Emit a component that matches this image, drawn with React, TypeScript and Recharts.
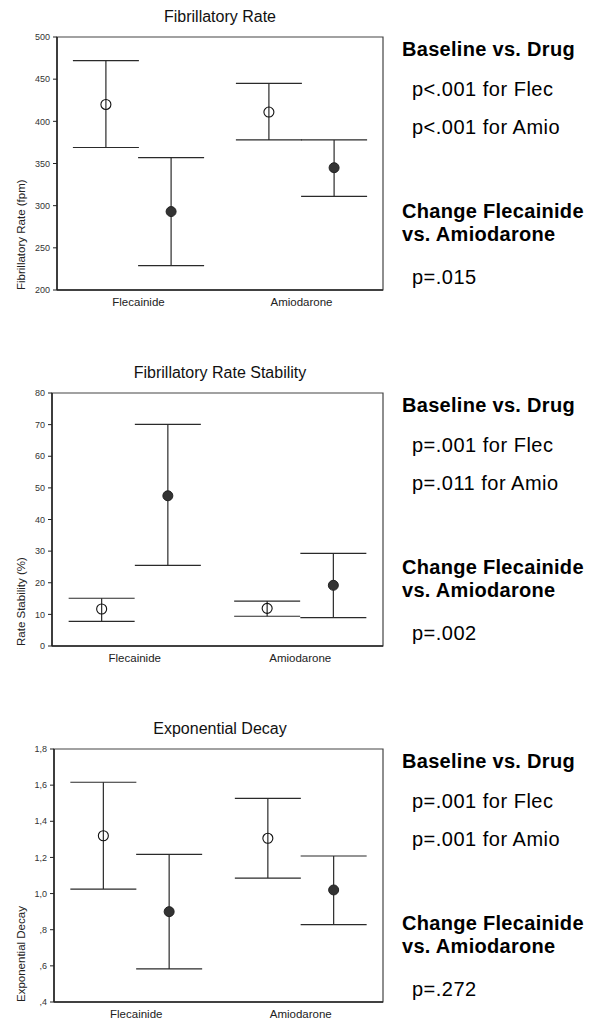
import {
  ComposedChart,
  ErrorBar,
  ReferenceArea,
  Scatter,
  XAxis,
  YAxis
} from "recharts";

const categories = ["Flecainide", "Amiodarone"];

// Fibrillatory rate (fpm): mean and 95% CI
const rateBaseMean = [420, 411];
const rateBaseLow = [369, 378];
const rateBaseHigh = [472, 445];
const rateDrugMean = [293, 345];
const rateDrugLow = [229, 311];
const rateDrugHigh = [357, 378];
const rateTicks = [200, 250, 300, 350, 400, 450, 500];
const rateStats = ["p<.001 for Flec", "p<.001 for Amio", "p=.015"];

// Rate stability (%)
const stabBaseMean = [11.7, 11.9];
const stabBaseLow = [7.8, 9.4];
const stabBaseHigh = [15.1, 14.2];
const stabDrugMean = [47.5, 19.2];
const stabDrugLow = [25.5, 9.0];
const stabDrugHigh = [70.1, 29.3];
const stabTicks = [0, 10, 20, 30, 40, 50, 60, 70, 80];
const stabStats = ["p=.001 for Flec", "p=.011 for Amio", "p=.002"];

// Exponential decay
const decayBaseMean = [1.32, 1.306];
const decayBaseLow = [1.025, 1.086];
const decayBaseHigh = [1.616, 1.527];
const decayDrugMean = [0.9, 1.02];
const decayDrugLow = [0.583, 0.828];
const decayDrugHigh = [1.217, 1.208];
const decayTicks = [0.4, 0.6, 0.8, 1.0, 1.2, 1.4, 1.6, 1.8];
const decayStats = ["p=.001 for Flec", "p=.001 for Amio", "p=.272"];

const FONT = '"Liberation Sans", Arial, Helvetica, sans-serif';

function toPoints(mean: number[], low: number[], high: number[], shift: number) {
  return categories.map((name, i) => ({
    name,
    x: i + 0.5 + shift,
    y: mean[i],
    err: [mean[i] - low[i], high[i] - mean[i]]
  }));
}

const openDot = (p: any) => (
  <circle cx={p.cx} cy={p.cy} r={5} fill="none" stroke="#111" strokeWidth={1.1} />
);
const filledDot = (p: any) => <circle cx={p.cx} cy={p.cy} r={5} fill="#333" stroke="#222" />;

interface PanelProps {
  top: number;
  plotLeft: number;
  title: string;
  yLabel: string;
  ticks: number[];
  fmt?: (v: number) => string;
  base: ReturnType<typeof toPoints>;
  drug: ReturnType<typeof toPoints>;
  stats: string[];
}

function Panel({ top, plotLeft, title, yLabel, ticks, fmt, base, drug, stats }: PanelProps) {
  const yMin = ticks[0];
  const yMax = ticks[ticks.length - 1];
  return (
    <div style={{ position: "absolute", left: 0, top, width: 598, height: 320 }}>
      <div style={{ position: "absolute", left: 0, top: 0 }}>
        <ComposedChart
          width={390}
          height={314}
          margin={{ top: 37, right: 7, bottom: 0, left: 0 }}
          style={{ fontFamily: FONT }}
        >
          <XAxis
            type="number"
            dataKey="x"
            domain={[0, 2]}
            ticks={[0.5, 1.5]}
            tickFormatter={(v: number) => categories[Math.round(v - 0.5)]}
            tickLine={false}
            tickSize={6}
            tickMargin={2}
            height={24}
            axisLine={{ stroke: "#222", strokeWidth: 1.5 }}
            tick={{ fontSize: 11.5, fill: "#222" }}
          />
          <YAxis
            type="number"
            dataKey="y"
            domain={[yMin, yMax]}
            ticks={ticks}
            tickFormatter={fmt}
            width={plotLeft}
            tickSize={4}
            tickMargin={3}
            axisLine={{ stroke: "#222", strokeWidth: 1.5 }}
            tickLine={{ stroke: "#222" }}
            tick={{ fontSize: 9, fill: "#333" }}
          />
          <ReferenceArea x1={0} x2={2} y1={yMin} y2={yMax} fill="none" stroke="#444" strokeWidth={1.2} />
          <Scatter data={base} shape={openDot} isAnimationActive={false}>
            <ErrorBar dataKey="err" direction="y" width={33} stroke="#2a2a2a" strokeWidth={1.2} />
          </Scatter>
          <Scatter data={drug} shape={filledDot} isAnimationActive={false}>
            <ErrorBar dataKey="err" direction="y" width={33} stroke="#2a2a2a" strokeWidth={1.2} />
          </Scatter>
        </ComposedChart>
      </div>
      <svg
        width={598}
        height={320}
        style={{ position: "absolute", left: 0, top: 0, pointerEvents: "none", fontFamily: FONT }}
      >
        <text x={220} y={21.5} textAnchor="middle" fontSize={16} fill="#111">
          {title}
        </text>
        <text x={25} y={290} transform="rotate(-90 25 290)" fontSize={11.5} fill="#222">
          {yLabel}
        </text>
        <text x={402} y={55.5} fontSize={20} fontWeight="bold" letterSpacing={0.3} fill="#000">
          Baseline vs. Drug
        </text>
        <text x={412} y={96} fontSize={20} letterSpacing={0.5} fill="#000">
          {stats[0]}
        </text>
        <text x={412} y={133.5} fontSize={20} letterSpacing={0.5} fill="#000">
          {stats[1]}
        </text>
        <text x={402} y={218} fontSize={20} fontWeight="bold" letterSpacing={0.3} fill="#000">
          Change Flecainide
        </text>
        <text x={402} y={241} fontSize={20} fontWeight="bold" letterSpacing={0.3} fill="#000">
          vs. Amiodarone
        </text>
        <text x={412} y={284} fontSize={20} letterSpacing={0.5} fill="#000">
          {stats[2]}
        </text>
      </svg>
    </div>
  );
}

const decayFmt = (v: number) => v.toFixed(1).replace(".", ",").replace(/^0/, "");

export default function App() {
  return (
    <div
      style={{
        position: "absolute",
        left: 0,
        top: 0,
        width: 598,
        height: 1020,
        overflow: "hidden",
        background: "#fff"
      }}
    >
      <Panel
        top={0}
        plotLeft={57}
        title="Fibrillatory Rate"
        yLabel="Fibrillatory Rate (fpm)"
        ticks={rateTicks}
        base={toPoints(rateBaseMean, rateBaseLow, rateBaseHigh, -0.2)}
        drug={toPoints(rateDrugMean, rateDrugLow, rateDrugHigh, 0.2)}
        stats={rateStats}
      />
      <Panel
        top={356}
        plotLeft={52}
        title="Fibrillatory Rate Stability"
        yLabel="Rate Stability (%)"
        ticks={stabTicks}
        base={toPoints(stabBaseMean, stabBaseLow, stabBaseHigh, -0.2)}
        drug={toPoints(stabDrugMean, stabDrugLow, stabDrugHigh, 0.2)}
        stats={stabStats}
      />
      <Panel
        top={712}
        plotLeft={54}
        title="Exponential Decay"
        yLabel="Exponential Decay"
        ticks={decayTicks}
        fmt={decayFmt}
        base={toPoints(decayBaseMean, decayBaseLow, decayBaseHigh, -0.2)}
        drug={toPoints(decayDrugMean, decayDrugLow, decayDrugHigh, 0.2)}
        stats={decayStats}
      />
    </div>
  );
}
